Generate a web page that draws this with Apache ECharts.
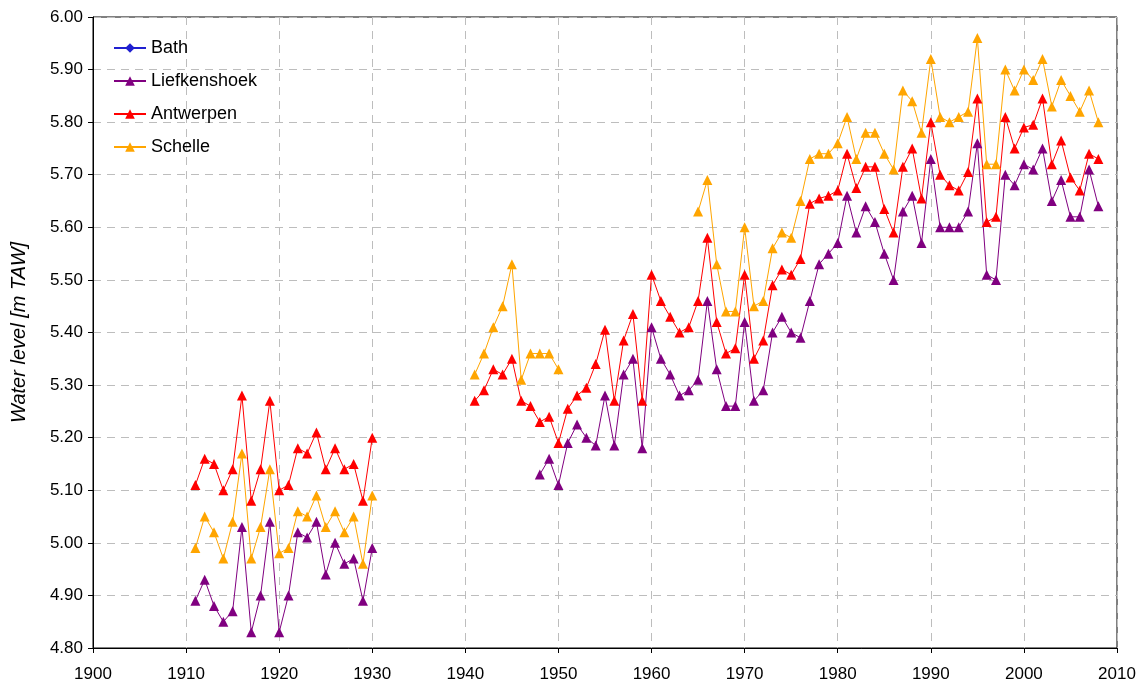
<!DOCTYPE html>
<html>
<head>
<meta charset="utf-8">
<script src="https://cdn.jsdelivr.net/npm/echarts@6/dist/echarts.min.js"></script>
<style>
  html, body { margin: 0; padding: 0; background: #fff; }
  #chart { width: 1145px; height: 688px; }
</style>
</head>
<body>
<div id="chart"></div>
<script>
// years for each stretch of measurements
const yearsEarly = range(1911, 1930);
const yearsLate = range(1941, 2008);
const yearsSchelleWar = range(1941, 1950);
const yearsSchelleLate = range(1965, 2008);
const yearsLiefLate = range(1948, 2008);

// Bath: listed in the legend, no values shown
const bath = [];

const liefkenshoekEarly = [4.89, 4.93, 4.88, 4.85, 4.87, 5.03, 4.83, 4.90, 5.04, 4.83,
  4.90, 5.02, 5.01, 5.04, 4.94, 5.00, 4.96, 4.97, 4.89, 4.99];
const liefkenshoekLate = [5.13, 5.16, 5.11,
  5.19, 5.225, 5.20, 5.185, 5.28, 5.185, 5.32, 5.35, 5.18, 5.41,
  5.35, 5.32, 5.28, 5.29, 5.31, 5.46, 5.33, 5.26, 5.26, 5.42,
  5.27, 5.29, 5.40, 5.43, 5.40, 5.39, 5.46, 5.53, 5.55, 5.57,
  5.66, 5.59, 5.64, 5.61, 5.55, 5.50, 5.63, 5.66, 5.57, 5.73,
  5.60, 5.60, 5.60, 5.63, 5.76, 5.51, 5.50, 5.70, 5.68, 5.72,
  5.71, 5.75, 5.65, 5.69, 5.62, 5.62, 5.71, 5.64];

const antwerpenEarly = [5.11, 5.16, 5.15, 5.10, 5.14, 5.28, 5.08, 5.14, 5.27, 5.10,
  5.11, 5.18, 5.17, 5.21, 5.14, 5.18, 5.14, 5.15, 5.08, 5.20];
const antwerpenLate = [5.27, 5.29, 5.33, 5.32, 5.35, 5.27, 5.26, 5.23, 5.24, 5.19,
  5.255, 5.28, 5.295, 5.34, 5.405, 5.27, 5.385, 5.435, 5.27, 5.51,
  5.46, 5.43, 5.40, 5.41, 5.46, 5.58, 5.42, 5.36, 5.37, 5.51,
  5.35, 5.385, 5.49, 5.52, 5.51, 5.54, 5.645, 5.655, 5.66, 5.67,
  5.74, 5.675, 5.715, 5.715, 5.635, 5.59, 5.715, 5.75, 5.655, 5.80,
  5.70, 5.68, 5.67, 5.705, 5.845, 5.61, 5.62, 5.81, 5.75, 5.79,
  5.795, 5.845, 5.72, 5.765, 5.695, 5.67, 5.74, 5.73];

const schelleEarly = [4.99, 5.05, 5.02, 4.97, 5.04, 5.17, 4.97, 5.03, 5.14, 4.98,
  4.99, 5.06, 5.05, 5.09, 5.03, 5.06, 5.02, 5.05, 4.96, 5.09];
const schelleWar = [5.32, 5.36, 5.41, 5.45, 5.53, 5.31, 5.36, 5.36, 5.36, 5.33];
const schelleLate = [5.63, 5.69, 5.53, 5.44, 5.44, 5.60,
  5.45, 5.46, 5.56, 5.59, 5.58, 5.65, 5.73, 5.74, 5.74, 5.76,
  5.81, 5.73, 5.78, 5.78, 5.74, 5.71, 5.86, 5.84, 5.78, 5.92,
  5.81, 5.80, 5.81, 5.82, 5.96, 5.72, 5.72, 5.90, 5.86, 5.90,
  5.88, 5.92, 5.83, 5.88, 5.85, 5.82, 5.86, 5.80];

function range(a, b) {
  const out = [];
  for (let y = a; y <= b; y++) out.push(y);
  return out;
}

// join stretches, with a null point so the line breaks between them
function segments(...parts) {
  const out = [];
  parts.forEach(([years, vals], i) => {
    if (i > 0) out.push([years[0] - 1, null]);
    years.forEach((y, j) => out.push([y, vals[j]]));
  });
  return out;
}

const chart = echarts.init(document.getElementById("chart"));
const font = "Liberation Sans, Arial, sans-serif";
const dashed = { show: true, lineStyle: { color: "#bdbdbd", type: [8, 6], width: 1 } };

function line(name, color, symbol, data) {
  return {
    name, type: "line", data, symbol, symbolSize: 10,
    connectNulls: false,
    lineStyle: { color, width: 1 },
    itemStyle: { color },
    emphasis: { disabled: true },
    animation: false
  };
}

chart.setOption({
  backgroundColor: "#fff",
  textStyle: { fontFamily: font },
  grid: { left: 93, right: 28, top: 17, bottom: 40, show: true, borderColor: "#000", borderWidth: 1 },
  legend: {
    orient: "vertical", left: 108, top: 34, itemGap: 15,
    itemWidth: 32, itemHeight: 12,
    textStyle: { fontSize: 18, color: "#000", fontFamily: font },
    data: ["Bath", "Liefkenshoek", "Antwerpen", "Schelle"]
  },
  xAxis: {
    type: "value", min: 1900, max: 2010, interval: 10,
    axisLine: { lineStyle: { color: "#000" } },
    axisTick: { lineStyle: { color: "#000" }, length: 5 },
    axisLabel: { color: "#000", fontSize: 17, margin: 18, fontFamily: font, formatter: v => String(v) },
    splitLine: dashed
  },
  yAxis: {
    type: "value", min: 4.8, max: 6.0, interval: 0.1,
    name: "Water level [m TAW]", nameLocation: "middle", nameGap: 64,
    nameTextStyle: { fontSize: 20, fontStyle: "italic", color: "#000", fontFamily: font },
    axisLine: { show: true, lineStyle: { color: "#000" } },
    axisTick: { show: true, lineStyle: { color: "#000" }, length: 5 },
    axisLabel: { color: "#000", fontSize: 17, margin: 10, fontFamily: font, formatter: v => v.toFixed(2) },
    splitLine: dashed
  },
  series: [
    line("Bath", "#2020d0", "diamond", bath),
    line("Liefkenshoek", "#800080", "triangle",
      segments([yearsEarly, liefkenshoekEarly], [yearsLiefLate, liefkenshoekLate])),
    line("Antwerpen", "#ff0000", "triangle",
      segments([yearsEarly, antwerpenEarly], [yearsLate, antwerpenLate])),
    line("Schelle", "#ffa500", "triangle",
      segments([yearsEarly, schelleEarly], [yearsSchelleWar, schelleWar], [yearsSchelleLate, schelleLate]))
  ]
});
</script>
</body>
</html>
